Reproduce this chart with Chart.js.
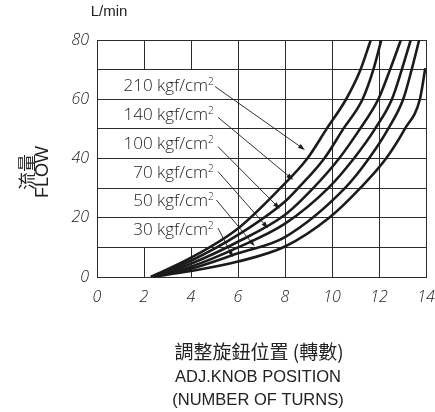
<!DOCTYPE html>
<html>
<head>
<meta charset="utf-8">
<script src="https://cdn.jsdelivr.net/npm/chart.js@4.4.0/dist/chart.umd.min.js"></script>
<style>
  html, body { margin: 0; padding: 0; background: #fff; }
  #wrap { width: 435px; height: 412px; position: relative; }
</style>
</head>
<body>
<div id="wrap"><canvas id="flow-chart"></canvas></div>
<script>
// Relief pressure settings, in the order the labels are stacked (top first)
const pressures = ['210', '140', '100', '70', '50', '30'];

// Flow (L/min) vs. adjusting knob turns
const turns210 = [2.3, 4, 6, 7.8, 8.95, 9.77, 10.6, 11.19, 11.65];
const flow210  = [0, 6.5, 16.4, 30, 40, 50, 60, 69.5, 80];
const turns140 = [2.3, 4, 6, 8, 8.56, 9.67, 10.48, 11.3, 11.76, 12.1];
const flow140  = [0, 5.5, 14.2, 25.5, 30, 40, 50, 60, 70, 80];
const turns100 = [2.3, 4, 6, 8, 9.2, 10.3, 11.19, 11.97, 12.47, 12.93];
const flow100  = [0, 4.5, 11.9, 21, 30, 40, 50, 60, 70, 80];
const turns70  = [2.3, 4, 6, 8, 9.84, 10.93, 11.83, 12.55, 12.97, 13.35];
const flow70   = [0, 3.5, 10, 18, 30, 40, 50, 60, 70, 80];
const turns50  = [2.3, 4, 6, 8, 10.55, 11.57, 12.39, 13.03, 13.39, 13.71];
const flow50   = [0, 2.8, 8, 13.5, 30, 40, 50, 60, 70, 80];
const turns30  = [2.3, 4, 6, 8, 9.88, 11.2, 12.3, 13.1, 13.74, 13.97];
const flow30   = [0, 2, 5.2, 10.3, 20, 30, 40, 50, 60, 70.5];

// Label anchors and leader arrows (turns, L/min)
const labelY     = [64.5, 54.6, 44.8, 35.2, 25.5, 15.8];
const arrowTailX = [5.02, 5.15, 5.15, 5.15, 5.08, 5.15];
const arrowTailY = [64.3, 53.9, 44.0, 35.6, 26.0, 16.5];
const arrowHeadX = [8.85, 8.35, 7.78, 7.28, 6.71, 5.79];
const arrowHeadY = [42.9, 32.8, 23.0, 16.4, 10.4, 6.7];

// Axis ticks
const xTicks = [0, 2, 4, 6, 8, 10, 12, 14];
const yTicks = [0, 10, 20, 30, 40, 50, 60, 70, 80];

const curves = [
  [turns210, flow210], [turns140, flow140], [turns100, flow100],
  [turns70, flow70], [turns50, flow50], [turns30, flow30]
];

const ink = '#1b1b1b';
const gridColor = '#2b2b2b';
const tickFont = { family: "'Open Sans', sans-serif", size: 16, style: 'italic', weight: 300 };

const datasets = curves.map(([xs, ys], i) => ({
  label: pressures[i] + ' kgf/cm2',
  data: xs.map((v, k) => ({ x: v, y: ys[k] })),
  borderColor: ink,
  borderWidth: 2.6,
  pointRadius: 0,
  fill: false,
  cubicInterpolationMode: 'monotone'
}));

function drawArrow(ctx, x0, y0, x1, y1) {
  const a = Math.atan2(y1 - y0, x1 - x0);
  const len = 7, half = 2.4;
  ctx.beginPath();
  ctx.moveTo(x0, y0);
  ctx.lineTo(x1 - Math.cos(a) * len * 0.8, y1 - Math.sin(a) * len * 0.8);
  ctx.stroke();
  ctx.beginPath();
  ctx.moveTo(x1, y1);
  ctx.lineTo(x1 - Math.cos(a) * len - Math.sin(a) * half, y1 - Math.sin(a) * len + Math.cos(a) * half);
  ctx.lineTo(x1 - Math.cos(a) * len + Math.sin(a) * half, y1 - Math.sin(a) * len - Math.cos(a) * half);
  ctx.closePath();
  ctx.fill();
}

const extras = {
  id: 'extras',
  beforeDatasetsDraw(chart) {
    const { ctx, scales: { x, y } } = chart;
    // grid lines at 2 and 4 turns are broken by the label block (10..70 L/min)
    ctx.save();
    ctx.strokeStyle = gridColor;
    ctx.lineWidth = 1;
    [2, 4].forEach(v => {
      const px = Math.round(x.getPixelForValue(v)) + 0.5;
      [[0, 10], [70, 80]].forEach(([a, b]) => {
        ctx.beginPath();
        ctx.moveTo(px, y.getPixelForValue(a));
        ctx.lineTo(px, y.getPixelForValue(b));
        ctx.stroke();
      });
    });
    ctx.restore();
  },
  afterDatasetsDraw(chart) {
    const { ctx, scales: { x, y } } = chart;
    ctx.save();
    ctx.fillStyle = ink;
    ctx.strokeStyle = ink;
    ctx.lineWidth = 0.9;
    const rightX = x.getPixelForValue(4.97);
    pressures.forEach((p, i) => {
      const py = y.getPixelForValue(labelY[i]);
      const main = p + ' kgf/cm';
      ctx.textBaseline = 'middle';
      ctx.font = "300 10px 'Open Sans', sans-serif";
      const supW = ctx.measureText('2').width;
      ctx.font = "300 17px 'Open Sans', sans-serif";
      const mainW = ctx.measureText(main).width;
      ctx.textAlign = 'left';
      ctx.fillText(main, rightX - supW - mainW, py);
      ctx.font = "300 10px 'Open Sans', sans-serif";
      ctx.fillText('2', rightX - supW, py - 4);
      drawArrow(ctx,
        x.getPixelForValue(arrowTailX[i]), y.getPixelForValue(arrowTailY[i]),
        x.getPixelForValue(arrowHeadX[i]), y.getPixelForValue(arrowHeadY[i]));
    });
    ctx.restore();
  },
  afterDraw(chart) {
    const { ctx } = chart;
    ctx.save();
    ctx.fillStyle = '#222';
    ctx.textAlign = 'center';
    ctx.textBaseline = 'middle';
    ctx.font = "15px 'Liberation Sans', Arial, sans-serif";
    ctx.fillText('L/min', 109, 12);

    // rotated y title
    ctx.save();
    ctx.translate(0, 172);
    ctx.rotate(-Math.PI / 2);
    ctx.font = "18px 'Noto Sans CJK TC', sans-serif";
    ctx.fillText('流量', 0, 27);
    ctx.font = "18px 'Liberation Sans', Arial, sans-serif";
    ctx.fillText('FLOW', 0, 43);
    ctx.restore();

    ctx.font = "19px 'Noto Sans CJK TC', sans-serif";
    ctx.fillText('調整旋鈕位置 (轉數)', 259, 352);
    ctx.font = "16.5px 'Liberation Sans', Arial, sans-serif";
    ctx.fillText('ADJ.KNOB POSITION', 258, 377);
    ctx.fillText('(NUMBER OF TURNS)', 258, 400);
    ctx.restore();
  }
};

new Chart(document.getElementById('flow-chart'), {
  type: 'line',
  data: { datasets: datasets },
  plugins: [extras],
  options: {
    responsive: true,
    maintainAspectRatio: false,
    animation: false,
    layout: { padding: { top: 40, right: 9, left: 0, bottom: 0 } },
    plugins: {
      legend: { display: false },
      tooltip: { enabled: false }
    },
    scales: {
      x: {
        type: 'linear',
        min: 0,
        max: 14,
        afterBuildTicks: s => { s.ticks = xTicks.map(v => ({ value: v })); },
        afterFit: s => { s.height = 135; s.paddingLeft = 0; s.paddingRight = 0; },
        grid: {
          drawTicks: false,
          color: c => (c.tick && (c.tick.value === 2 || c.tick.value === 4)) ? 'rgba(0,0,0,0)' : gridColor
        },
        border: { display: true, color: gridColor },
        ticks: { color: '#222', font: tickFont, padding: 11, maxRotation: 0 }
      },
      y: {
        min: 0,
        max: 80,
        afterBuildTicks: s => { s.ticks = yTicks.map(v => ({ value: v })); },
        afterFit: s => { s.width = 97; s.paddingTop = 0; s.paddingBottom = 0; },
        grid: { drawTicks: false, color: gridColor },
        border: { display: true, color: gridColor },
        ticks: {
          color: '#222',
          font: tickFont,
          padding: 8,
          callback: v => (v % 20 === 0 ? v : '')
        }
      }
    }
  }
});
</script>
</body>
</html>
